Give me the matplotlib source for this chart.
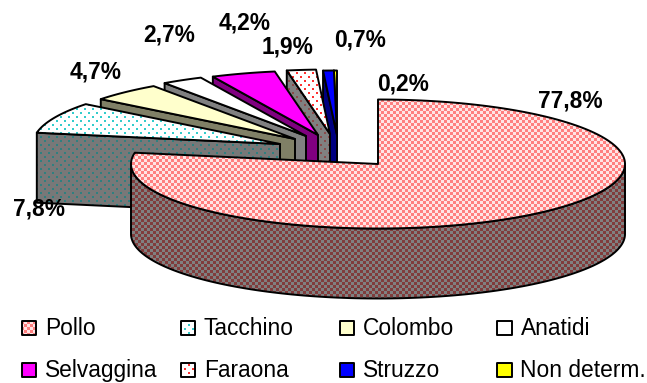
import numpy as np
import matplotlib
matplotlib.use("Agg")
import matplotlib.pyplot as plt
from matplotlib.patches import Polygon

# Share of each species, in percent, clockwise from twelve o'clock
categories = ["Pollo", "Tacchino", "Colombo", "Anatidi",
              "Selvaggina", "Faraona", "Struzzo", "Non determ."]
values = [77.8, 7.8, 4.7, 2.7, 4.2, 1.9, 0.7, 0.2]

# Pie geometry in canvas pixels
W, H = 647, 383
CX, CY, RX, RY, DEPTH = 378, 164, 247, 64.5, 70
# Apex shift of each exploded wedge
SHIFT_X = [0, -98, -83, -72, -60, -48, -41, -41]
SHIFT_Y = [0, -20, -25, -28, -29, -30, -29, -29]
# Value label centres
LABEL_X = [570, 39, 96, 169, 245, 288, 360, 403]
LABEL_Y = [101, 209, 72, 35, 23, 47, 40, 84]
# Legend grid
LEG_X = [21.5, 180.5, 339.5, 497]
LEG_Y = [327.5, 369.5]

yy, xx = np.mgrid[0:H, 0:W]


def rgb(c):
    return np.array(matplotlib.colors.to_rgb(c))


def flat(c):
    return np.ones((H, W, 3)) * rgb(c)


def checker(base, other, size=3.0):
    mask = ((np.floor(xx / size) + np.floor(yy / size)) % 2).astype(bool)
    img = flat(base)
    img[mask] = rgb(other)
    return img


def dots(base, dot, px=8, py=8):
    a = (xx % px < 2) & (yy % py < 2)
    b = ((xx + px // 2) % px < 2) & ((yy + py // 2) % py < 2)
    img = flat(base)
    img[a | b] = rgb(dot)
    return img


tops = [checker("#ff7f7f", "#ffe4e4"), dots("#ffffff", "#33cccc"), flat("#ffffcc"),
        flat("#ffffff"), flat("#ff00ff"), dots("#ffffff", "#ff3030", 8, 8),
        flat("#0000ff"), flat("#ffff00")]
walls = [checker("#803c3c", "#808080"), dots("#787878", "#2f8080"), flat("#808066"),
         flat("#808080"), flat("#800080"), dots("#808080", "#8a4a4a", 8, 8),
         flat("#000080"), flat("#808000")]


def arc(cx, cy, t0, t1):
    t = np.radians(np.linspace(t0, t1, max(int(abs(t1 - t0) * 2), 2)))
    return np.column_stack([cx + RX * np.sin(t), cy - RY * np.cos(t)])


fig = plt.figure(figsize=(W / 100, H / 100), dpi=100)
ax = fig.add_axes([0, 0, 1, 1])
ax.set_xlim(0, W)
ax.set_ylim(H, 0)
ax.axis("off")
plt.rcParams["font.family"] = "Liberation Sans"

order = 0


def paint(points, image):
    """Fill a polygon with a pixel pattern and stroke its outline."""
    global order
    order += 1
    poly = Polygon(points, closed=True, fc="none", ec="black", lw=1.4,
                   joinstyle="round", zorder=order + 0.5)
    ax.add_patch(poly)
    im = ax.imshow(image, extent=(0, W, H, 0), interpolation="bilinear",
                   aspect="auto", zorder=order)
    im.set_clip_path(poly)


# Wedge boundaries in degrees
edges = np.concatenate([[0], np.cumsum(values)]) * 360 / sum(values)

# Exploded wedges, back to front, then the main slice
for i in range(len(values) - 1, 0, -1):
    ax_x, ax_y = CX + SHIFT_X[i], CY + SHIFT_Y[i]
    t0, t1 = edges[i], edges[i + 1]
    outer = arc(ax_x, ax_y, t0, t1)
    rim = outer[0]
    wall = [(rim[0], rim[1]), (ax_x, ax_y), (ax_x, ax_y + DEPTH), (rim[0], rim[1] + DEPTH)]
    paint(wall, walls[i])
    paint(np.vstack([[(ax_x, ax_y)], outer]), tops[i])

# The main slice's rim is visible only along the front half of the ellipse
side_top = arc(CX, CY, 90, 270)
side = np.vstack([side_top, (side_top + [0, DEPTH])[::-1]])
paint(side, walls[0])
paint(np.vstack([[(CX, CY)], arc(CX, CY, 0, edges[1])]), tops[0])

# Value labels
for v, x, y in zip(values, LABEL_X, LABEL_Y):
    ax.text(x, y, f"{v:.1f}%".replace(".", ","), ha="center", va="center",
            fontsize=16.4, fontweight="bold", color="black", zorder=100)

# Legend, four columns by two rows
for k, name in enumerate(categories):
    x, y = LEG_X[k % 4], LEG_Y[k // 4]
    s = [(x, y - 7), (x + 14.5, y - 7), (x + 14.5, y + 7), (x, y + 7)]
    paint(s, tops[k])
    ax.text(x + 23.5, y + 1, name, ha="left", va="center", fontsize=16.4, color="black", zorder=100)

ax.set_xlim(0, W)
ax.set_ylim(H, 0)
fig.savefig("out.png", dpi=100, facecolor="white")
